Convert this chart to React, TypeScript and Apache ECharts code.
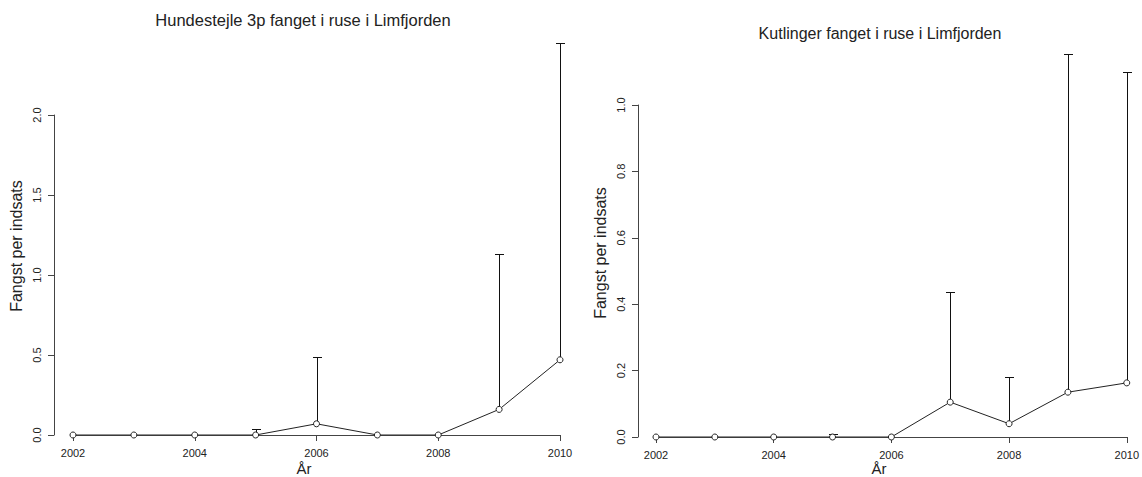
import React, { useEffect, useRef } from "react";
import * as echarts from "echarts";

const years = [2002, 2003, 2004, 2005, 2006, 2007, 2008, 2009, 2010];
const hundMean = [0, 0, 0, 0, 0.07, 0, 0, 0.16, 0.47];
const hundUpper = [0, 0, 0, 0.04, 0.49, 0, 0, 1.13, 2.45];
const kutMean = [0, 0, 0, 0, 0, 0.105, 0.04, 0.135, 0.163];
const kutUpper = [0, 0, 0, 0.008, 0, 0.437, 0.18, 1.155, 1.1];

const leftTitle = "Hundestejle 3p fanget i ruse i Limfjorden";
const rightTitle = "Kutlinger fanget i ruse i Limfjorden";
const yName = "Fangst per indsats";
const xName = "År";

const FONT = "'Liberation Sans', Arial, sans-serif";
const AXIS_COLOR = "#444";
const TEXT_COLOR = "#222";

function errRender(params: any, api: any) {
  const x = api.value(0);
  const m = api.value(1);
  const u = api.value(2);
  if (!(u > m)) return { type: "group", children: [] };
  const p0 = api.coord([x, m]);
  const p1 = api.coord([x, u]);
  const cx = Math.round(p0[0]) + 0.5;
  const ty = Math.round(p1[1]) + 0.5;
  return {
    type: "group",
    children: [
      { type: "line", shape: { x1: cx, y1: p0[1], x2: cx, y2: ty }, style: { stroke: "#111", lineWidth: 1 } },
      { type: "line", shape: { x1: cx - 4.5, y1: ty, x2: cx + 4.5, y2: ty }, style: { stroke: "#111", lineWidth: 1 } },
    ],
  };
}

function makeX(gridIndex: number) {
  return {
    type: "value",
    gridIndex,
    min: 2002,
    max: 2010,
    interval: 2,
    axisLine: { show: true, lineStyle: { color: AXIS_COLOR, width: 1 } },
    axisTick: { show: true, inside: false, length: 6, lineStyle: { color: AXIS_COLOR } },
    axisLabel: { fontSize: 11, color: TEXT_COLOR, fontFamily: FONT, margin: 12, formatter: (v: number) => String(v) },
    splitLine: { show: false },
  };
}

function makeY(gridIndex: number, max: number, interval: number, offset: number) {
  return {
    type: "value",
    gridIndex,
    min: 0,
    max,
    interval,
    offset,
    axisLine: { show: true, lineStyle: { color: AXIS_COLOR, width: 1 } },
    axisTick: { show: true, inside: false, length: 6, lineStyle: { color: AXIS_COLOR } },
    axisLabel: { fontSize: 11, color: TEXT_COLOR, fontFamily: FONT, rotate: 90, margin: 12, formatter: (v: number) => v.toFixed(1) },
    splitLine: { show: false },
  };
}

function lineSeries(idx: number, means: number[]) {
  return {
    type: "line",
    xAxisIndex: idx,
    yAxisIndex: idx,
    data: years.map((y, i) => [y, means[i]]),
    symbol: "circle",
    symbolSize: 6,
    showSymbol: true,
    lineStyle: { color: "#222", width: 1 },
    itemStyle: { color: "#fff", borderColor: "#222", borderWidth: 1 },
    z: 3,
  };
}

function errSeries(idx: number, means: number[], uppers: number[]) {
  return {
    type: "custom",
    xAxisIndex: idx,
    yAxisIndex: idx,
    clip: false,
    data: years.map((y, i) => [y, means[i], uppers[i]]),
    renderItem: errRender,
    z: 2,
  };
}

function txt(text: string, x: number, y: number, size: number, rotation = 0) {
  return {
    type: "text",
    x,
    y,
    rotation,
    style: {
      text,
      font: `${size}px ${FONT}`,
      fill: TEXT_COLOR,
      align: "center",
      verticalAlign: "middle",
      textAlign: "center",
      textVerticalAlign: "middle",
    },
  };
}

export default function App() {
  const ref = useRef<HTMLDivElement>(null);
  useEffect(() => {
    if (!ref.current) return;
    const chart = echarts.init(ref.current, null, { renderer: "svg" });
    chart.setOption({
      animation: false,
      backgroundColor: "#fff",
      grid: [
        { left: 73, top: 115, width: 487, height: 320 },
        { left: 656, top: 105, width: 475, height: 332 },
      ],
      xAxis: [makeX(0), makeX(1)],
      yAxis: [makeY(0, 2, 0.5, 19), makeY(1, 1, 0.2, 18)],
      series: [
        errSeries(0, hundMean, hundUpper),
        lineSeries(0, hundMean),
        errSeries(1, kutMean, kutUpper),
        lineSeries(1, kutMean),
      ],
      graphic: [
        txt(leftTitle, 303, 20, 16.5),
        txt(rightTitle, 880, 33, 16),
        txt(yName, 16, 246, 16, Math.PI / 2),
        txt(yName, 600, 253, 16, Math.PI / 2),
        txt(xName, 304, 468, 15),
        txt(xName, 879, 468, 15),
      ],
    });
    return () => chart.dispose();
  }, []);
  return (
    <div
      ref={ref}
      style={{ position: "fixed", left: 0, top: 0, width: 1142, height: 477 }}
    />
  );
}
